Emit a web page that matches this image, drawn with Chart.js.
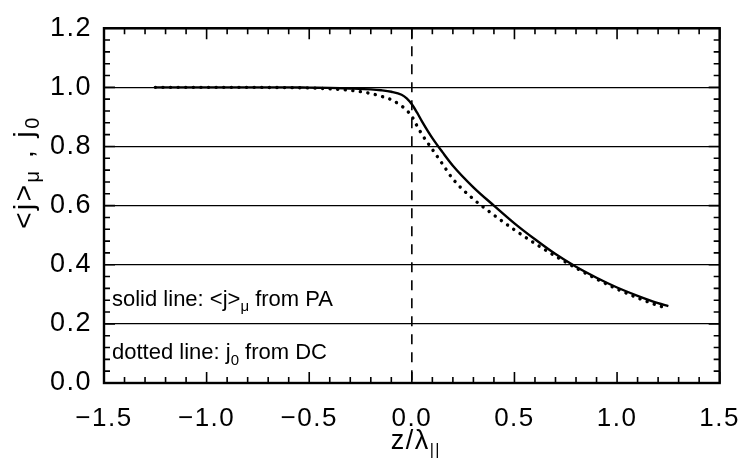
<!DOCTYPE html>
<html><head><meta charset="utf-8">
<script src="https://cdn.jsdelivr.net/npm/chart.js@4/dist/chart.umd.min.js"></script>
<style>html,body{margin:0;padding:0;background:#fff}</style>
</head><body>
<canvas id="c" width="752" height="460" style="width:752px;height:460px;display:block"></canvas>
<script>
// z / lambda_parallel positions
const zValues = [-1.25,-1.0,-0.8,-0.6,-0.5,-0.4,-0.3,-0.2,-0.15,-0.1,-0.05,-0.025,0.0,0.025,0.05,0.1,0.15,0.2,0.3,0.4,0.5,0.6,0.7,0.8,0.9,1.0,1.1,1.2,1.25];
// solid line: <j>_mu from PA
const solidPA = [1.0,1.0,1.0,1.0,0.999,0.998,0.996,0.993,0.99,0.985,0.975,0.963,0.943,0.915,0.884,0.828,0.78,0.735,0.662,0.6,0.54,0.486,0.436,0.393,0.356,0.323,0.295,0.27,0.26];
// dotted line: j_0 from DC
const dottedDC = [1.0,1.0,1.0,0.999,0.998,0.995,0.99,0.979,0.97,0.958,0.937,0.922,0.902,0.87,0.84,0.79,0.74,0.69,0.622,0.568,0.518,0.472,0.429,0.389,0.352,0.318,0.288,0.262,0.252];
const xTickValues = [-1.5,-1.0,-0.5,0.0,0.5,1.0,1.5];
const yTickValues = [0.0,0.2,0.4,0.6,0.8,1.0,1.2];

const FONT = '"Liberation Sans", Arial, sans-serif';
const toPts = ys => zValues.map((x,i)=>({x, y: ys[i]}));

function richText(ctx, segs, x, y, size, align, subScale){
  const ss = subScale || 0.7;
  const widths = segs.map(s=>{ctx.font = (s.sub? Math.round(size*ss):size)+'px '+FONT; return ctx.measureText(s.t).width;});
  const total = widths.reduce((a,b)=>a+b,0);
  let cx = align==='center' ? x-total/2 : x;
  segs.forEach((s,i)=>{
    ctx.font = (s.sub? Math.round(size*ss):size)+'px '+FONT;
    ctx.fillText(s.t, cx, y + (s.sub? size*0.32:0));
    cx += widths[i];
  });
  return total;
}

const spacing = {
  id:'spacing',
  beforeInit(chart){ chart.ctx.letterSpacing = '1.5px'; },
  beforeUpdate(chart){ chart.ctx.letterSpacing = '1.5px'; },
  beforeDraw(chart){ chart.ctx.letterSpacing = '1.5px'; }
};

const decor = {
  id:'decor',
  afterDraw(chart){
    const {ctx, chartArea:a, scales:{x, y}} = chart;
    ctx.save();
    ctx.strokeStyle = '#000';
    // dashed vertical line at z = 0
    ctx.lineWidth = 1.6;
    ctx.setLineDash([10,8]);
    const x0 = x.getPixelForValue(0);
    ctx.beginPath(); ctx.moveTo(x0, a.top); ctx.lineTo(x0, a.bottom); ctx.stroke();
    ctx.setLineDash([]);
    // inward ticks
    ctx.lineWidth = 1.6;
    for(let i=0;i<=30;i++){
      const v = -1.5 + i*0.1;
      const px = x.getPixelForValue(v);
      const len = i%5===0 ? 11 : 6;
      ctx.beginPath();
      ctx.moveTo(px, a.bottom); ctx.lineTo(px, a.bottom-len);
      ctx.moveTo(px, a.top); ctx.lineTo(px, a.top+len);
      ctx.stroke();
    }
    for(let i=0;i<=30;i++){
      const v = i*0.04;
      const py = y.getPixelForValue(v);
      const len = i%5===0 ? 11 : 6;
      ctx.beginPath();
      ctx.moveTo(a.left, py); ctx.lineTo(a.left+len, py);
      ctx.moveTo(a.right, py); ctx.lineTo(a.right-len, py);
      ctx.stroke();
    }
    // frame
    ctx.lineWidth = 2.4;
    ctx.strokeRect(a.left, a.top, a.right-a.left, a.bottom-a.top);
    // annotations
    ctx.fillStyle = '#000';
    ctx.textBaseline = 'middle';
    ctx.textAlign = 'left';
    ctx.letterSpacing = '0px';
    const tx = x.getPixelForValue(-1.5) + 8;
    richText(ctx, [{t:'solid line: <j>'},{t:'μ',sub:true},{t:' from PA'}], tx, y.getPixelForValue(0.28), 22, 'left');
    richText(ctx, [{t:'dotted line: j'},{t:'0',sub:true},{t:' from DC'}], tx, y.getPixelForValue(0.1), 22, 'left');
    // x title
    ctx.letterSpacing = '1.5px';
    richText(ctx, [{t:'z/λ'},{t:'||',sub:true}], (a.left+a.right)/2 + 4, 442, 27, 'center', 0.6);
    // y title (rotated)
    ctx.translate(25, 172);
    ctx.rotate(-Math.PI/2);
    ctx.letterSpacing = '2.5px';
    richText(ctx, [{t:'<j>'},{t:'μ',sub:true},{t:' , j'},{t:'0',sub:true}], 0, 0, 28, 'center', 0.72);
    ctx.restore();
  }
};

new Chart(document.getElementById('c'), {
  type:'scatter',
  data:{
    datasets:[
      {label:'j0 from DC', data: toPts(dottedDC), showLine:true, borderColor:'#000', borderWidth:3.4,
       borderDash:[0.1,7.5], borderCapStyle:'round', pointRadius:0, cubicInterpolationMode:'monotone', fill:false},
      {label:'<j>mu from PA', data: toPts(solidPA), showLine:true, borderColor:'#000', borderWidth:2.4,
       pointRadius:0, cubicInterpolationMode:'monotone', fill:false}
    ]
  },
  options:{
    responsive:false, animation:false, devicePixelRatio:1,
    layout:{padding:{top:17, right:23, left:0, bottom:0}},
    plugins:{legend:{display:false}, tooltip:{enabled:false}},
    scales:{
      x:{type:'linear', min:-1.5, max:1.5,
         afterBuildTicks: s => { s.ticks = xTickValues.map(v=>({value:v})); },
         afterFit: s => { s.height = 77; },
         grid:{display:false}, border:{display:false},
         ticks:{color:'#000', padding:12, font:{family:FONT, size:26},
                callback: v => Number(v).toFixed(1).replace('-', '\u2212')}},
      y:{type:'linear', min:0, max:1.2,
         afterBuildTicks: s => { s.ticks = yTickValues.map(v=>({value:v})); },
         afterFit: s => { s.width = 104; },
         grid:{color:'#000', lineWidth:1.3, drawTicks:false}, border:{display:false},
         ticks:{color:'#000', padding:12, font:{family:FONT, size:27},
                callback: v => Number(v).toFixed(1)}}
    }
  },
  plugins:[spacing, decor]
});
</script>
</body></html>
